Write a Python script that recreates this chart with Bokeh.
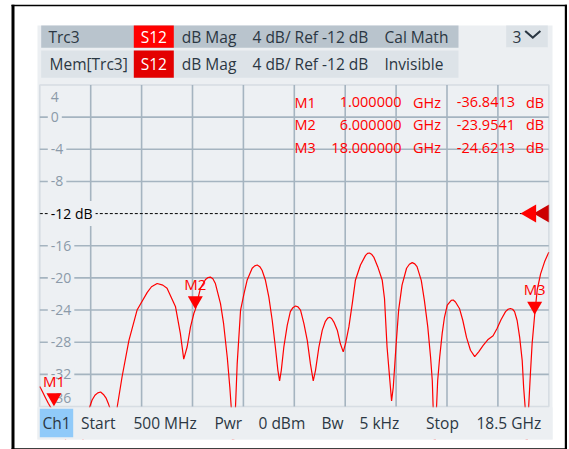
import numpy as np
from bokeh.plotting import figure
from bokeh.models import (Range1d, Label, BoxAnnotation, PolyAnnotation, ColumnDataSource)
from bokeh.core.properties import value
from bokeh.embed import file_html
from bokeh.resources import INLINE

# ---------------- data ----------------
start_ghz = 0.5
stop_ghz = 18.5
ref_db = -12.0
y_top = 4.0
y_bottom = -36.0
n_xdiv = 10

freq_ghz = [
    0.50, 0.60, 0.70, 0.80, 0.90, 1.00, 1.10, 1.30, 1.60, 1.90,
    2.10, 2.20, 2.27, 2.35, 2.45, 2.55, 2.65, 2.75, 2.85, 2.93,
    2.98, 3.05, 3.12, 3.18, 3.24, 3.41, 3.65, 3.94, 4.30, 4.45,
    4.65, 4.85, 5.00, 5.30, 5.47, 5.59, 5.71, 5.83, 5.95, 6.00,
    6.18, 6.36, 6.45, 6.53, 6.62, 6.71, 6.89, 7.00, 7.13, 7.22,
    7.27, 7.33, 7.42, 7.48, 7.60, 7.72, 7.83, 8.01, 8.10, 8.19,
    8.28, 8.36, 8.48, 8.60, 8.72, 8.83, 8.92, 8.98, 9.04, 9.13,
    9.25, 9.36, 9.45, 9.54, 9.63, 9.72, 9.84, 9.96, 10.07, 10.17,
    10.25, 10.37, 10.49, 10.60, 10.68, 10.75, 10.82, 10.90, 11.02, 11.13,
    11.23, 11.31, 11.43, 11.55, 11.66, 11.84, 12.02, 12.09, 12.16, 12.23,
    12.31, 12.45, 12.61, 12.69, 12.78, 12.88, 12.94, 13.00, 13.04, 13.11,
    13.19, 13.31, 13.47, 13.57, 13.67, 13.76, 13.84, 13.99, 14.10, 14.22,
    14.32, 14.38, 14.41, 14.47, 14.53, 14.57, 14.64, 14.73, 14.81, 14.91,
    15.05, 15.12, 15.20, 15.34, 15.46, 15.59, 15.73, 15.88, 16.02, 16.18,
    16.34, 16.53, 16.67, 16.81, 16.97, 17.06, 17.14, 17.22, 17.29, 17.38,
    17.47, 17.56, 17.61, 17.66, 17.72, 17.79, 17.85, 17.91, 18.00, 18.09,
    18.21, 18.35, 18.50]

s12_db = [
    -33.5, -34.2, -34.9, -35.6, -36.2, -36.84, -37.6, -39.0, -42.0, -42.0,
    -39.0, -37.0, -36.0, -35.2, -34.6, -34.3, -34.2, -34.5, -35.0, -35.7,
    -36.2, -38.0, -40.0, -38.0, -36.0, -32.3, -27.8, -24.0, -21.8, -21.1,
    -20.7, -20.9, -21.3, -23.6, -26.9, -30.1, -28.6, -26.1, -24.4, -23.95,
    -21.3, -20.2, -19.95, -19.9, -20.1, -20.7, -23.2, -25.7, -29.9, -33.6,
    -36.1, -42.0, -36.1, -30.7, -24.0, -22.0, -20.3, -18.8, -18.5, -18.4,
    -18.6, -19.05, -20.3, -22.4, -25.3, -28.6, -31.5, -32.8, -31.5, -28.6,
    -25.9, -24.2, -23.7, -23.5, -23.6, -24.0, -25.7, -27.8, -30.7, -32.8,
    -31.5, -28.6, -26.5, -25.4, -25.0, -24.9, -25.05, -25.5, -26.5, -28.2,
    -29.2, -28.2, -26.1, -23.2, -20.3, -18.4, -17.2, -16.95, -16.9, -17.05,
    -17.4, -18.6, -20.3, -22.6, -28.6, -32.8, -35.3, -33.6, -31.5, -27.8,
    -24.0, -20.9, -18.8, -18.3, -18.1, -18.25, -18.6, -20.3, -22.8, -26.1,
    -29.9, -32.8, -36.1, -42.0, -36.1, -32.8, -29.9, -26.9, -24.9, -23.4,
    -22.8, -22.75, -23.0, -23.8, -25.3, -27.4, -29.0, -29.8, -29.2, -28.4,
    -27.7, -27.2, -26.3, -25.2, -24.2, -23.9, -23.8, -23.9, -24.2, -25.3,
    -27.4, -30.3, -33.6, -35.9, -42.0, -35.9, -31.9, -28.2, -24.62, -21.5,
    -19.5, -18.0, -16.8]

marker_names = ["M1", "M2", "M3"]
marker_freq_ghz = [1.0, 6.0, 18.0]
marker_db = [-36.8413, -23.9541, -24.6213]

ytick_vals = [4, 0, -4, -8, -12, -16, -20, -24, -28, -32, -36]
ytick_labels = ["4", "0", "-4", "-8", "-12 dB", "-16", "-20", "-24", "-28", "-32", "-36"]

header_row1 = ["Trc3", "S12", "dB Mag", "4 dB/ Ref -12 dB", "Cal Math"]
header_row2 = ["Mem[Trc3]", "S12", "dB Mag", "4 dB/ Ref -12 dB", "Invisible"]
channel = "Ch1"
power_dbm = 0
bandwidth_khz = 5

# ---------------- style / layout ----------------
FONT = "Open Sans"
TEXT = "#2b3743"
RED = "#ff0000"
PLOT_BG = "#edf0f3"
PANEL_BG = "#eceff2"
GRID = "#a5b4c0"
W, H = 569, 449
PL, PR, PT, PB = 39.3, 548.3, 84.5, 406.0   # plot area in canvas pixels

span = stop_ghz - start_ghz
ppg = (PR - PL) / span                 # px per GHz
ppd = (PB - PT) / (y_top - y_bottom)   # px per dB

p = figure(width=W, height=H, output_backend="svg", toolbar_location=None, title=None,
           x_range=Range1d(start_ghz - PL / ppg, stop_ghz + (W - PR) / ppg),
           y_range=Range1d(y_bottom - (H - PB) / ppd, y_top + PT / ppd),
           x_axis_type=None, y_axis_type=None, min_border=0,
           background_fill_color="white", border_fill_color="white",
           outline_line_color=None)


def box(l, r, t, b, color, level="annotation"):
    p.add_layout(BoxAnnotation(left=l, right=r, top=t, bottom=b,
                               left_units="canvas", right_units="canvas",
                               top_units="canvas", bottom_units="canvas",
                               fill_color=color, fill_alpha=1, line_color=None, level=level))


def lab(text, x, y, color=TEXT, size="15.5px", align="left"):
    p.add_layout(Label(x=x, y=y, x_units="canvas", y_units="canvas", text=text,
                       text_font=FONT, text_font_size=size, text_color=color,
                       text_align=align, text_baseline="middle"))


# panel background (below everything)
box(37, 552, 25, 439.3, PANEL_BG, level="image")

# plot area background and grid
p.quad(left=[start_ghz], right=[stop_ghz], bottom=[y_bottom], top=[y_top],
       fill_color=PLOT_BG, line_color=None)
xt = [start_ghz + k * span / n_xdiv for k in range(1, n_xdiv)]
yt = [v for v in ytick_vals if y_bottom < v < y_top and v != ref_db]
p.segment(x0=xt, y0=[y_bottom] * len(xt), x1=xt, y1=[y_top] * len(xt),
          line_color=GRID, line_width=1.6)
p.segment(x0=[start_ghz] * len(yt), y0=yt, x1=[stop_ghz] * len(yt), y1=yt,
          line_color=GRID, line_width=1.6)

# reference level dashed line
p.line(x=[start_ghz, stop_ghz], y=[ref_db, ref_db], line_color="black", line_width=1, line_dash="3 2")

# y labels inside plot
yoff = [11.5 if v == y_top else (-8.5 if v == y_bottom else 0) for v in ytick_vals]
ycol = ["black" if v == ref_db else "#8b9aa9" for v in ytick_vals]
src_y = ColumnDataSource(dict(x=[start_ghz] * len(ytick_vals), y=ytick_vals, t=ytick_labels, c=ycol, yo=yoff))
p.text(x="x", y="y", text="t", source=src_y, x_offset=8, y_offset="yo", text_color="c",
       text_font=value(FONT), text_font_size="14px", text_baseline="middle", text_align="left",
       background_fill_color=PLOT_BG, padding=3)

# trace
p.line(freq_ghz, s12_db, line_color=RED, line_width=1.2)

# reference arrows at right edge
p.scatter(x=[stop_ghz - 4.9 / ppg, stop_ghz - 17.9 / ppg], y=[ref_db, ref_db],
          marker="triangle", angle=np.pi / 2, size=18, fill_color=["#cc0000", RED], line_color=None)

# markers (clamped to the visible range)
m_y = [max(v, y_bottom) for v in marker_db]
p.scatter(x=marker_freq_ghz, y=[v + 9.0 / ppd for v in m_y], marker="inverted_triangle",
          size=15, fill_color=RED, line_color=None)
p.text(x=marker_freq_ghz, y=m_y, text=marker_names, y_offset=-26, text_align="center",
       text_baseline="middle", text_color=RED, text_font=value(FONT), text_font_size="15px")

# ---------------- covers below the plot area (hide trace below range) ----------------
box(37, 552, PB + 0.8, 439.3, PANEL_BG)
box(0, W, 439.3, H, "white")

# plot outline
p.add_layout(BoxAnnotation(left=start_ghz, right=stop_ghz, top=y_top, bottom=y_bottom,
                           fill_alpha=0, line_color=GRID, line_width=1.6))

# header bands
box(40.7, 458, 25, 47.3, "#b9c4cd")
box(40.7, 458, 50, 77.3, "#dde3e8")
box(133.3, 173.3, 25, 47.3, "#ff0000")
box(133.3, 173.3, 50, 77.3, "#e30000")
box(505.7, 547.3, 25, 46.7, "#dce2e7")
# footer channel box
box(39.3, 72.7, 408.3, 436.7, "#90caf9")

# outer black frame
box(11, 14, 4.3, 449, "black")
box(564.3, 566.5, 4.3, 449, "black")
box(11, 566.5, 4.3, 5.8, "black")
box(11, 566.5, 447.7, 449, "black")

# header texts
r1y, r2y = 36.2, 63.7
hx1 = [48, 153.3, 181.3, 252, 384]
hx2 = [49, 153.3, 181.3, 252, 384]
for row, yy, hx in ((header_row1, r1y, hx1), (header_row2, r2y, hx2)):
    for i, t in enumerate(row):
        if i == 1:
            lab(t, hx[i], yy, color="white", align="center")
        else:
            lab(t, hx[i], yy)
lab("3", 512, 36.0)
p.add_layout(PolyAnnotation(xs=[524.0, 532.3, 540.6, 539.2, 532.3, 525.4],
                            ys=[31.2, 38.4, 31.2, 29.8, 35.8, 29.8],
                            xs_units="canvas", ys_units="canvas",
                            fill_color=TEXT, fill_alpha=1, line_color=None))

# marker table
rows_y = [101.5, 124.0, 147.0]
for name, f, v, yy in zip(marker_names, marker_freq_ghz, marker_db, rows_y):
    lab(name, 294, yy, color=RED, size="14.5px")
    lab(f"{f:.6f}", 401, yy, color=RED, size="14.5px", align="right")
    lab("GHz", 412.5, yy, color=RED, size="14.5px")
    lab(f"{v:.4f}", 514.5, yy, color=RED, size="14.5px", align="right")
    lab("dB", 525.5, yy, color=RED, size="14.5px")

# footer
fy = 422.5
lab(channel, 56, fy, align="center")
lab("Start", 80.5, fy)
lab(f"{start_ghz * 1000:.0f} MHz", 133, fy)
lab("Pwr", 214, fy)
lab(f"{power_dbm} dBm", 258, fy)
lab("Bw", 321, fy)
lab(f"{bandwidth_khz} kHz", 359, fy)
lab("Stop", 425.6, fy)
lab(f"{stop_ghz:g} GHz", 476, fy)

open("out.html", "w").write(file_html(p, INLINE))
